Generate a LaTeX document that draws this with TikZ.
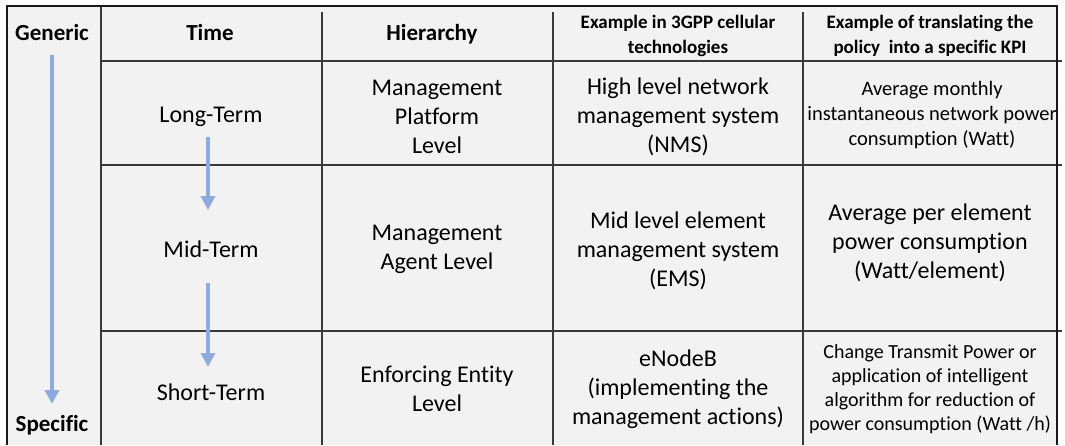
\documentclass[tikz,border=0pt]{standalone}
\usepackage{fontspec}
\setmainfont{Carlito}[Ligatures=CommonOff]
\usetikzlibrary{arrows.meta}
\definecolor{cellgray}{HTML}{F2F2F2}
\definecolor{arrowblue}{HTML}{8FAADC}
\definecolor{gridline}{HTML}{3A3A3A}
\tikzset{
  grid/.style={draw=gridline, line width=1.2pt},
  border/.style={draw=black!90, line width=2pt},
  bluearrow/.style={draw=arrowblue, line width=4pt, -{Triangle[length=14pt,width=14pt]}},
  hdr/.style={font=\bfseries\fontsize{23}{28}\selectfont, align=center, inner sep=0pt},
  hdrsm/.style={font=\bfseries\fontsize{19}{24.5}\selectfont, align=center, inner sep=0pt},
  body/.style={font=\fontsize{24}{29}\selectfont, align=center, inner sep=0pt},
  kpimid/.style={font=\fontsize{20.5}{25}\selectfont, align=center, inner sep=0pt},
  kpisml/.style={font=\fontsize{20}{24}\selectfont, align=center, inner sep=0pt}
}
\begin{document}
\begin{tikzpicture}[x=1pt,y=-1pt]
\useasboundingbox (0,0) rectangle (1065,445);
\fill[white] (0,0) rectangle (1065,445);
\fill[cellgray] (7,6) rectangle (1057,445);
% grid lines
\draw[grid] (101,61) -- (1062,61);
\draw[grid] (101,165) -- (1062,165);
\draw[grid] (101,331) -- (1062,331);
\draw[grid] (101,6) -- (101,445);
\draw[grid] (322,12) -- (322,445);
\draw[grid] (553,12) -- (553,445);
\draw[grid] (803,12) -- (803,445);
% outer border
\draw[border] (7,445) -- (7,6) -- (1057,6) -- (1057,445);

% headers
\node[hdr] (generic) at (52,33) {Generic};
\node[hdr] (specific) at (52,425) {Specific};
\node[hdr] (time) at (210,33) {Time};
\node[hdr] (hier) at (432,34) {Hierarchy};
\node[hdrsm] (ex3gpp) at (678,36) {Example in 3GPP cellular\\technologies};
\node[hdrsm] (exkpi) at (930,36) {Example of translating the\\policy\ \ into a specific KPI};

% time column
\node[body] (long) at (211,117) {Long-Term};
\node[body] (mid) at (211,249) {Mid-Term};
\node[body] (short) at (211,392) {Short-Term};

% hierarchy column
\node[body] (h1) at (437,117) {Management\\Platform\\Level};
\node[body] (h2) at (437,249) {Management\\Agent Level};
\node[body] (h3) at (437,389) {Enforcing Entity\\Level};

% 3GPP column
\node[body] (g1) at (678,117) {High level network\\management system\\(NMS)};
\node[body] (g2) at (678,251) {Mid level element\\management system\\(EMS)};
\node[body] (g3) at (678,389) {eNodeB\\(implementing the\\management actions)};

% KPI column
\node[kpimid] (k1) at (932,115) {Average monthly\\instantaneous network power\\consumption (Watt)};
\node[body] (k2) at (930,243) {Average per element\\power consumption\\(Watt/element)};
\node[kpisml] (k3) at (930,389) {Change Transmit Power or\\application of intelligent\\algorithm for reduction of\\power consumption (Watt /h)};

% arrows
\coordinate (ga) at (52,55);
\coordinate (gb) at (52,404);
\draw[bluearrow] (ga) -- (gb);
\coordinate (t1a) at (208,137);
\coordinate (t1b) at (208,210);
\draw[bluearrow] (t1a) -- (t1b);
\coordinate (t2a) at (208,283);
\coordinate (t2b) at (208,367);
\draw[bluearrow] (t2a) -- (t2b);
\end{tikzpicture}
\end{document}
